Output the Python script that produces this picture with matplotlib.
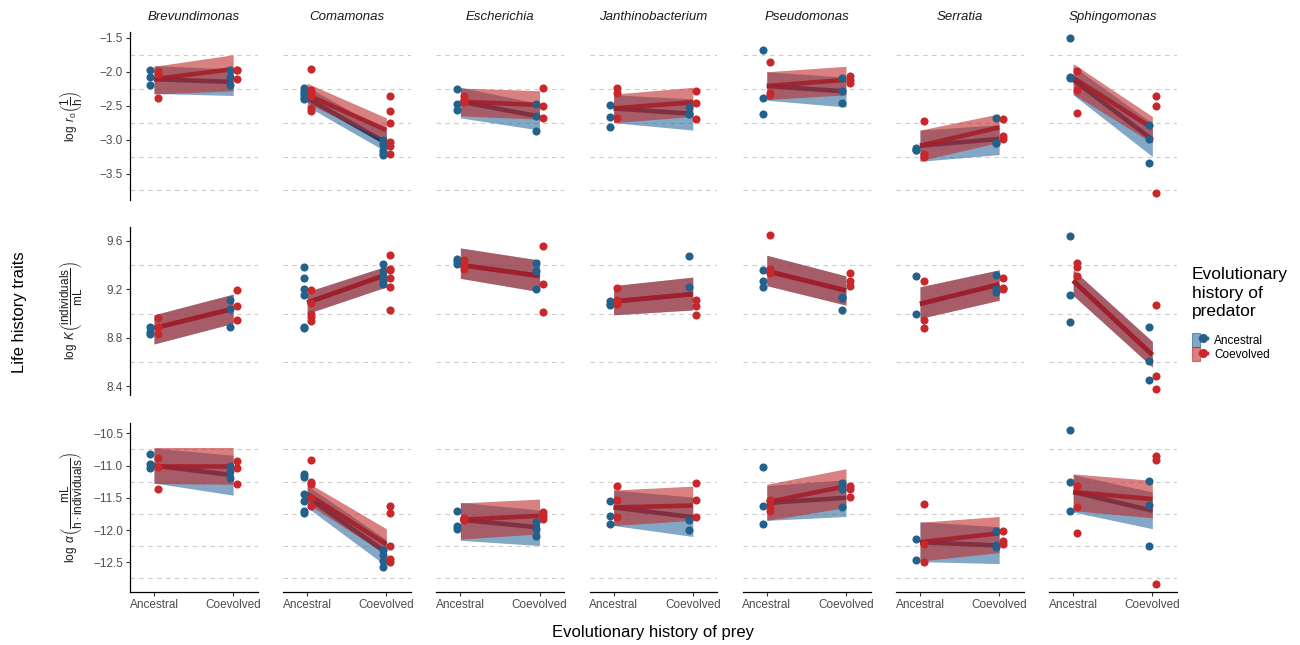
import matplotlib
matplotlib.use("Agg")
import matplotlib.pyplot as plt
from matplotlib.patches import Patch
from matplotlib.lines import Line2D
from matplotlib.legend_handler import HandlerTuple

plt.rcParams['font.family'] = ['Liberation Sans', 'DejaVu Sans']
plt.rcParams['mathtext.fontset'] = 'custom'
plt.rcParams['mathtext.rm'] = 'Liberation Sans'
plt.rcParams['mathtext.it'] = 'Liberation Sans:italic'
plt.rcParams['mathtext.bf'] = 'Liberation Sans:bold'

# ---------------- data ----------------
GENERA = ["Brevundimonas", "Comamonas", "Escherichia", "Janthinobacterium",
          "Pseudomonas", "Serratia", "Sphingomonas"]
PREY_LEVELS = ["Ancestral", "Coevolved"]
PRED_LEVELS = ["Ancestral", "Coevolved"]

# points: PA = ancestral predator, PC = coevolved predator; YA / YC = ancestral / coevolved prey
R0_PA_YA = [[-1.98, -2.08, -2.19], [-2.24, -2.28, -2.31, -2.34, -2.38, -2.40], [-2.26, -2.47, -2.56],
            [-2.49, -2.66, -2.82], [-1.68, -2.39, -2.62], [-3.13, -3.15, -3.15], [-1.51, -2.08, -2.09]]
R0_PC_YA = [[-1.99, -2.03, -2.39], [-1.96, -2.27, -2.31, -2.36, -2.54, -2.58], [-2.36, -2.41, -2.45],
            [-2.24, -2.31, -2.68], [-1.86, -2.32, -2.35], [-2.72, -3.21, -3.26], [-1.99, -2.27, -2.61]]
R0_PA_YC = [[-1.97, -2.08, -2.20], [-3.00, -3.05, -3.08, -3.15, -3.20, -3.22], [-2.47, -2.65, -2.88],
            [-2.52, -2.63, -2.63], [-2.09, -2.29, -2.46], [-2.68, -3.05, -3.05], [-2.79, -2.99, -3.35]]
R0_PC_YC = [[-1.97, -1.97, -2.10], [-2.36, -2.58, -2.76, -3.03, -3.09, -3.21], [-2.24, -2.51, -2.68],
            [-2.29, -2.46, -2.69], [-2.07, -2.12, -2.16], [-2.70, -2.94, -2.99], [-2.36, -2.51, -3.79]]
# fits: [mean_anc_prey, mean_coev_prey, lo_anc, lo_coev, hi_anc, hi_coev]
R0_FIT_PA = [[-2.11, -2.15, -2.32, -2.35, -1.91, -1.96], [-2.39, -3.05, -2.51, -3.18, -2.22, -2.88],
             [-2.44, -2.66, -2.68, -2.86, -2.23, -2.47], [-2.54, -2.62, -2.75, -2.86, -2.34, -2.40],
             [-2.21, -2.29, -2.42, -2.52, -2.00, -2.08], [-3.09, -2.99, -3.32, -3.22, -2.86, -2.78],
             [-2.12, -3.00, -2.34, -3.25, -1.92, -2.76]]
R0_FIT_PC = [[-2.11, -1.96, -2.33, -2.28, -1.92, -1.75], [-2.34, -2.86, -2.46, -3.03, -2.17, -2.68],
             [-2.44, -2.49, -2.65, -2.70, -2.24, -2.28], [-2.54, -2.45, -2.75, -2.66, -2.33, -2.23],
             [-2.21, -2.12, -2.41, -2.34, -2.00, -1.92], [-3.09, -2.82, -3.31, -3.04, -2.86, -2.62],
             [-2.09, -2.83, -2.33, -3.05, -1.88, -2.66]]

K_PA_YA = [[8.89, 8.85, 8.83], [9.38, 9.29, 9.20, 9.15, 8.89, 8.88], [9.45, 9.41, 9.43],
           [9.08, 9.10, 9.07], [9.36, 9.27, 9.22], [9.31, 9.00], [9.64, 9.15, 8.93]]
K_PC_YA = [[8.96, 8.89, 8.83], [9.19, 9.09, 9.00, 8.94, 8.97], [9.44, 9.39, 9.37],
           [9.21, 9.11, 9.08], [9.65, 9.37, 9.33], [9.27, 8.95, 8.88], [9.42, 9.38, 9.31]]
K_PA_YC = [[9.11, 9.04, 8.89], [9.41, 9.35, 9.30, 9.24, 9.27], [9.42, 9.35, 9.20],
           [9.47, 9.22], [9.14, 9.13, 9.03], [9.32, 9.20, 9.18], [8.89, 8.61, 8.45]]
K_PC_YC = [[9.19, 9.06, 8.95], [9.48, 9.37, 9.29, 9.22, 9.03, 9.36], [9.56, 9.24, 9.01],
           [9.11, 9.06, 8.99], [9.33, 9.27, 9.23], [9.29, 9.21, 9.20], [9.07, 8.49, 8.38]]
K_FIT_PA = [[8.88, 9.04, 8.75, 8.92, 8.99, 9.16], [9.09, 9.32, 9.00, 9.22, 9.18, 9.39],
            [9.40, 9.31, 9.29, 9.18, 9.54, 9.44], [9.10, 9.16, 8.99, 9.03, 9.23, 9.30],
            [9.35, 9.19, 9.23, 9.07, 9.48, 9.31], [9.08, 9.24, 8.96, 9.11, 9.22, 9.36],
            [9.27, 8.66, 9.15, 8.56, 9.36, 8.77]]
K_FIT_PC = [[8.88, 9.04, 8.75, 8.92, 8.99, 9.16], [9.09, 9.32, 9.00, 9.22, 9.18, 9.39],
            [9.40, 9.31, 9.29, 9.18, 9.54, 9.44], [9.10, 9.16, 8.99, 9.03, 9.23, 9.30],
            [9.35, 9.19, 9.23, 9.07, 9.48, 9.31], [9.08, 9.24, 8.96, 9.11, 9.22, 9.36],
            [9.27, 8.66, 9.15, 8.56, 9.36, 8.77]]

A_PA_YA = [[-10.82, -10.97, -11.04], [-11.13, -11.18, -11.44, -11.55, -11.70, -11.73], [-11.71, -11.93, -11.98],
           [-11.55, -11.78, -11.91], [-11.03, -11.62, -11.91], [-12.14, -12.46], [-10.45, -11.25, -11.71]]
A_PC_YA = [[-10.88, -11.02, -11.36], [-10.92, -11.26, -11.29, -11.50, -11.62], [-11.81, -11.85, -11.83],
           [-11.32, -11.53, -11.80], [-11.53, -11.65, -11.71], [-11.60, -12.22, -12.49], [-11.32, -11.65, -12.05]]
A_PA_YC = [[-11.01, -11.08, -11.20], [-12.31, -12.38, -12.48, -12.57], [-11.88, -11.98, -12.10],
           [-11.85, -12.00], [-11.27, -11.37, -11.65], [-12.01, -12.23, -12.27], [-11.24, -11.61, -12.24]]
A_PC_YC = [[-10.93, -11.04, -11.28], [-11.62, -11.73, -12.24, -12.45, -12.50], [-11.72, -11.78, -11.83],
           [-11.27, -11.53, -11.80], [-11.32, -11.36, -11.49], [-12.01, -12.17, -12.22], [-10.85, -10.91, -12.84]]
A_FIT_PA = [[-11.00, -11.15, -11.27, -11.46, -10.73, -10.84], [-11.49, -12.35, -11.65, -12.56, -11.31, -12.15],
            [-11.84, -11.96, -12.16, -12.24, -11.57, -11.69], [-11.65, -11.80, -11.93, -12.10, -11.38, -11.49],
            [-11.58, -11.50, -11.85, -11.79, -11.31, -11.22], [-12.19, -12.24, -12.49, -12.52, -11.87, -11.95],
            [-11.41, -11.70, -11.72, -11.98, -11.14, -11.41]]
A_FIT_PC = [[-11.00, -11.00, -11.28, -11.29, -10.72, -10.72], [-11.44, -12.22, -11.59, -12.38, -11.26, -11.98],
            [-11.84, -11.78, -12.14, -12.06, -11.58, -11.52], [-11.65, -11.62, -11.93, -11.85, -11.38, -11.32],
            [-11.57, -11.32, -11.85, -11.65, -11.29, -11.05], [-12.19, -12.05, -12.48, -12.35, -11.88, -11.79],
            [-11.41, -11.52, -11.70, -11.81, -11.13, -11.23]]

ROW_LABELS = [r'$\log\ r_0\left(\dfrac{1}{\mathrm{h}}\right)$',
              r'$\log\ K\left(\dfrac{\mathrm{individuals}}{\mathrm{mL}}\right)$',
              r'$\log\ \alpha\left(\dfrac{\mathrm{mL}}{\mathrm{h}\cdot\mathrm{individuals}}\right)$']
ROW_YTICKS = [[-1.5, -2.0, -2.5, -3.0, -3.5], [9.6, 9.2, 8.8, 8.4], [-10.5, -11.0, -11.5, -12.0, -12.5]]
ROW_GRID = [[-1.75, -2.25, -2.75, -3.25, -3.75], [9.4, 9.0, 8.6], [-10.75, -11.25, -11.75, -12.25, -12.75]]
ROW_YLIM = [(-3.89, -1.41), (8.33, 9.715), (-12.956, -10.336)]

ROWS = [(R0_PA_YA, R0_PA_YC, R0_PC_YA, R0_PC_YC, R0_FIT_PA, R0_FIT_PC),
        (K_PA_YA, K_PA_YC, K_PC_YA, K_PC_YC, K_FIT_PA, K_FIT_PC),
        (A_PA_YA, A_PA_YC, A_PC_YA, A_PC_YC, A_FIT_PA, A_FIT_PC)]

# ---------------- style ----------------
BLUE_PT = "#21618C"
RED_PT = "#C8282B"
BLUE_FILL = "#2F6F9F"
RED_FILL = "#C02B2B"
BLUE_LINE = "#14305A"
RED_LINE = "#A31F2A"
GRID_C = "#CCCCCC"
TICK_C = "#4D4D4D"
DODGE = 0.045

W, H = 1300, 645
fig = plt.figure(figsize=(W / 100, H / 100), dpi=100)

left0, pw, step = 130, 127.7, 153.2
row_px = [(31.7, 200.0), (226.7, 395.0), (422.7, 591.7)]

for r, (pa_ya, pa_yc, pc_ya, pc_yc, fit_pa, fit_pc) in enumerate(ROWS):
    top, bot = row_px[r]
    for c, genus in enumerate(GENERA):
        x0 = left0 + c * step
        ax = fig.add_axes([x0 / W, 1 - bot / H, pw / W, (bot - top) / H])
        ax.set_xlim(0.697, 2.31)
        ax.set_ylim(*ROW_YLIM[r])
        for g in ROW_GRID[r]:
            ax.axhline(g, color=GRID_C, lw=0.8, ls=(0, (4, 4)), zorder=0)
        # ribbons and lines: blue ribbon, blue line, red ribbon, red line
        z = 1.0
        for fit, fcol, lcol in [(fit_pa[c], BLUE_FILL, BLUE_LINE), (fit_pc[c], RED_FILL, RED_LINE)]:
            m1, m2, lo1, lo2, hi1, hi2 = fit
            ax.fill_between([1, 2], [lo1, lo2], [hi1, hi2], color=fcol, alpha=0.6, lw=0, zorder=z)
            ax.plot([1, 2], [m1, m2], color=lcol, lw=3.3, alpha=0.9, solid_capstyle='butt', zorder=z + 0.5)
            z += 1.0
        # points
        ax.scatter([1 - DODGE] * len(pa_ya[c]), pa_ya[c], s=34, color=BLUE_PT, lw=0, zorder=5)
        ax.scatter([2 - DODGE] * len(pa_yc[c]), pa_yc[c], s=34, color=BLUE_PT, lw=0, zorder=5)
        ax.scatter([1 + DODGE] * len(pc_ya[c]), pc_ya[c], s=34, color=RED_PT, lw=0, zorder=5)
        ax.scatter([2 + DODGE] * len(pc_yc[c]), pc_yc[c], s=34, color=RED_PT, lw=0, zorder=5)

        for s in ['top', 'right']:
            ax.spines[s].set_visible(False)
        ax.set_yticks(ROW_YTICKS[r])
        ax.set_yticklabels([f"{v:.1f}".replace("-", "\u2212") for v in ROW_YTICKS[r]])
        ax.set_xticks([1, 2])
        ax.set_xticklabels(PREY_LEVELS)
        ax.tick_params(axis='both', colors="#333333", labelcolor=TICK_C, labelsize=8.5,
                       length=3, width=0.8, pad=2)
        if c == 0:
            ax.spines['left'].set_linewidth(0.9)
        else:
            ax.spines['left'].set_visible(False)
            ax.tick_params(axis='y', left=False, labelleft=False)
        if r == 2:
            ax.spines['bottom'].set_linewidth(0.9)
        else:
            ax.spines['bottom'].set_visible(False)
            ax.tick_params(axis='x', bottom=False, labelbottom=False)
        if r == 0:
            fig.text((x0 + pw / 2) / W, 1 - 17 / H, genus, ha='center', va='center',
                     fontsize=9.5, style='italic', color="#1A1A1A")

    fig.text(71 / W, 1 - ((top + bot) / 2) / H, ROW_LABELS[r], rotation=90,
             ha='center', va='center', fontsize=8.5, color="#1A1A1A")

fig.text(20 / W, 1 - 312 / H, "Life history traits", rotation=90, ha='center', va='center',
         fontsize=12, color="black")
fig.text(653.5 / W, 1 - 633 / H, "Evolutionary history of prey", ha='center', va='center',
         fontsize=12, color="black")

handles = [(Patch(facecolor=BLUE_FILL, alpha=0.6, edgecolor=BLUE_PT, lw=0.8),
            Line2D([], [], color=BLUE_PT, lw=2.5, marker='o', ms=5.5)),
           (Patch(facecolor=RED_FILL, alpha=0.6, edgecolor=RED_PT, lw=0.8),
            Line2D([], [], color=RED_PT, lw=2.5, marker='o', ms=5.5))]
leg = fig.legend(handles, PRED_LEVELS, handler_map={tuple: HandlerTuple(ndivide=None)},
                 loc='upper left', bbox_to_anchor=(1186 / W, 1 - 261 / H), frameon=False,
                 title="Evolutionary\nhistory of\npredator", title_fontsize=12.5, fontsize=8.5,
                 handlelength=1.3, handleheight=1.4, handletextpad=0.6, labelspacing=0.05,
                 borderpad=0, alignment='left', numpoints=1)
leg.get_title().set_linespacing(1.3)
leg._legend_box.sep = 10

fig.savefig("out.png", dpi=100)
